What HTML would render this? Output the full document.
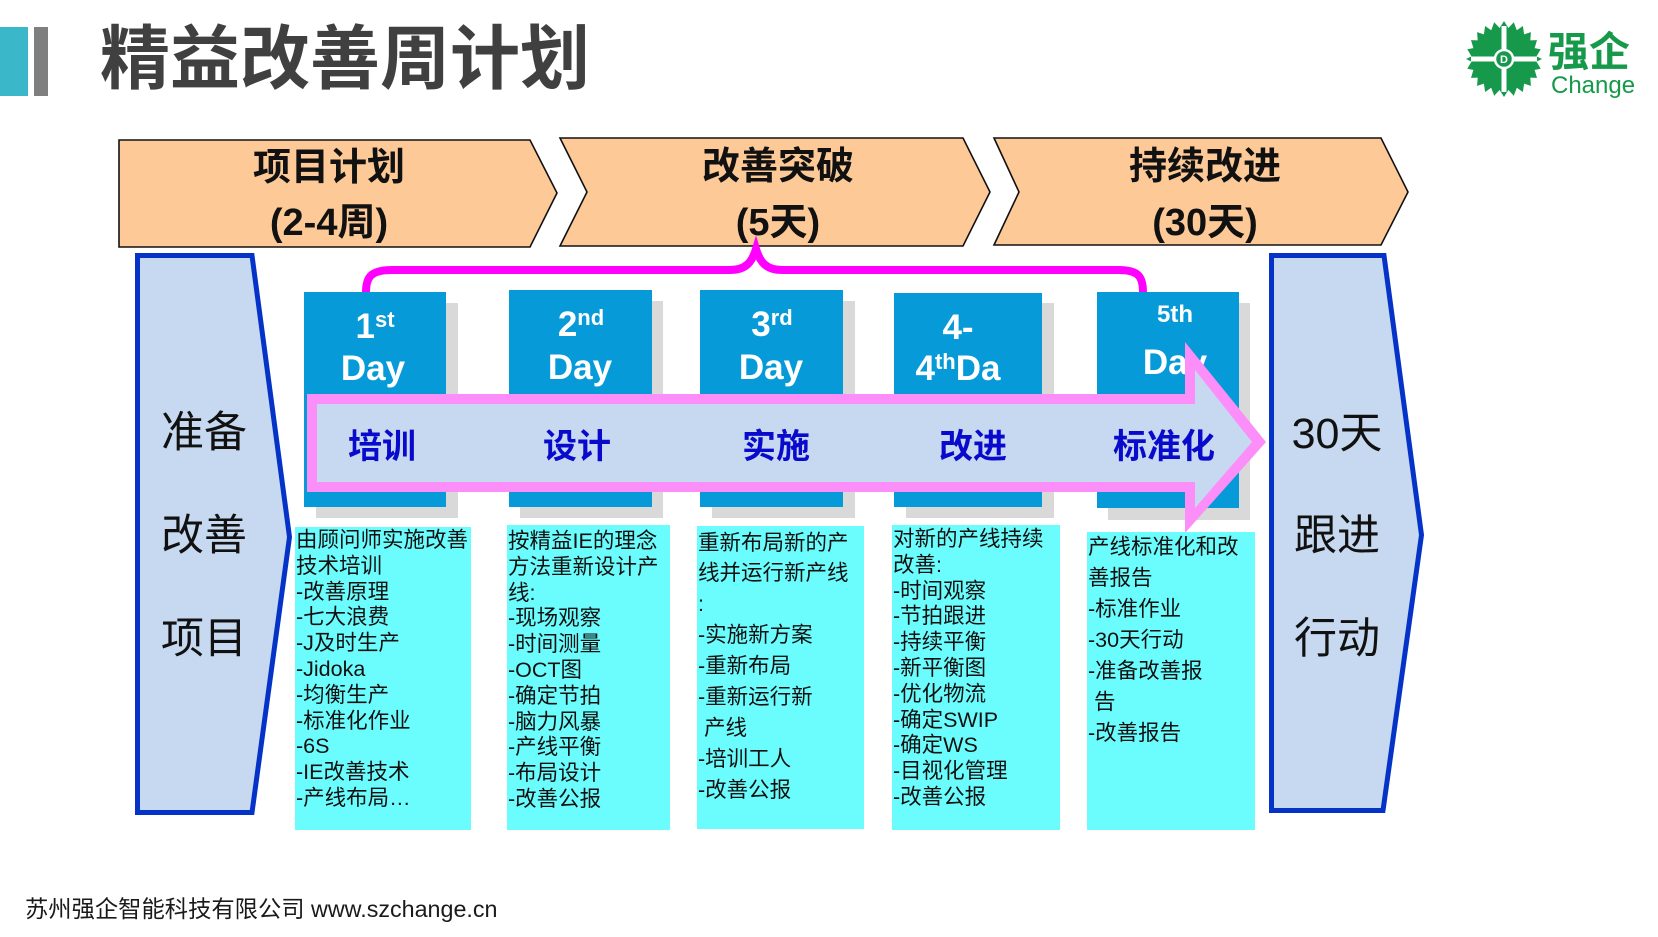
<!DOCTYPE html>
<html>
<head>
<meta charset="utf-8">
<style>
html,body{margin:0;padding:0;background:#fff;}
body{width:1658px;height:937px;position:relative;overflow:hidden;font-family:"Liberation Sans","Noto Sans CJK SC",sans-serif;}
svg{position:absolute;left:0;top:0;}
.title{position:absolute;left:100px;top:19px;font-size:70px;line-height:80px;font-weight:700;color:#404040;white-space:nowrap;font-family:"Liberation Sans","Noto Sans CJK SC",sans-serif;}
.tb{position:absolute;background:#6bfdfd;font-size:21.5px;color:#111;white-space:nowrap;box-sizing:border-box;padding-left:1px;font-family:"Liberation Sans","Noto Sans CJK SC",sans-serif;}
.tb div{white-space:nowrap;}
.footer{position:absolute;left:25px;top:894px;font-size:23.3px;line-height:30px;color:#1a1a1a;white-space:nowrap;font-family:"Liberation Sans","Noto Sans CJK SC",sans-serif;}
.logo1{position:absolute;left:1548px;top:27px;font-size:41px;line-height:50px;font-weight:700;color:#16994a;font-family:"Liberation Sans","Noto Sans CJK SC",sans-serif;white-space:nowrap;}
.logo2{position:absolute;left:1551px;top:72px;font-size:24px;line-height:28px;color:#16994a;font-family:"Liberation Sans",sans-serif;white-space:nowrap;}
</style>
</head>
<body>

<svg width="1658" height="937" viewBox="0 0 1658 937" xmlns="http://www.w3.org/2000/svg">
  <!-- title bars -->
  <rect x="0" y="27" width="28" height="69" fill="#3bb7ca"/>
  <rect x="34" y="27" width="14" height="69" fill="#7f7f7f"/>

  <!-- logo gear -->
  <g transform="translate(1504,59)">
    <polygon fill="#16994a" points="
      0,-38 4.4,-31 9.8,-36.7 12.8,-28.7 18.9,-33 20.1,-24.6 26.9,-26.9 26.3,-18.6 33,-18.9 30.6,-10.9 36.7,-9.8 32.5,-2.6 38,0
      32.5,2.6 36.7,9.8 30.6,10.9 33,18.9 26.3,18.6 26.9,26.9 20.1,24.6 18.9,33 12.8,28.7 9.8,36.7 4.4,31 0,38
      -4.4,31 -9.8,36.7 -12.8,28.7 -18.9,33 -20.1,24.6 -26.9,26.9 -26.3,18.6 -33,18.9 -30.6,10.9 -36.7,9.8 -32.5,2.6 -38,0
      -32.5,-2.6 -36.7,-9.8 -30.6,-10.9 -33,-18.9 -26.3,-18.6 -26.9,-26.9 -20.1,-24.6 -18.9,-33 -12.8,-28.7 -9.8,-36.7 -4.4,-31"/>
    <rect x="-33" y="-2.5" width="66" height="5" fill="#fff"/>
    <rect x="-2.5" y="-33" width="5" height="66" fill="#fff"/>
    <circle cx="0" cy="0" r="9" fill="#16994a" stroke="#fff" stroke-width="2.5"/>
    <text x="0" y="4" text-anchor="middle" font-size="11" font-weight="700" fill="#fff" font-family="Liberation Sans, sans-serif">D</text>
  </g>

  <!-- header chevrons -->
  <polygon points="119,140 530,140 557,193 530,247 119,247" fill="#fcc997" stroke="#111" stroke-width="1.6"/>
  <polygon points="560,138 963,138 990,192 963,246 560,246 587,192" fill="#fcc997" stroke="#111" stroke-width="1.6"/>
  <polygon points="994,138 1381,138 1408,192 1381,245 994,245 1019,192" fill="#fcc997" stroke="#111" stroke-width="1.6"/>

  <g font-family="Liberation Sans, Noto Sans CJK SC, sans-serif" font-weight="700" font-size="38" fill="#111" text-anchor="middle">
    <text x="329" y="180">项目计划</text>
    <text x="329" y="235">(2-4周)</text>
    <text x="778" y="179">改善突破</text>
    <text x="778" y="235">(5天)</text>
    <text x="1205" y="179">持续改进</text>
    <text x="1205" y="235">(30天)</text>
  </g>

  <!-- left and right panels -->
  <polygon points="137.5,255.5 252,255.5 289.5,537 252,812.5 137.5,812.5" fill="#c6d9f0" stroke="#0533c8" stroke-width="5"/>
  <polygon points="1278.5,255.5 1391,255.5 1428.5,535 1390,810.5 1278.5,810.5" fill="#c6d9f0" stroke="#0533c8" stroke-width="5" transform="translate(-7,0)"/>

  <g font-family="Liberation Sans, Noto Sans CJK SC, sans-serif" font-size="43" fill="#111" text-anchor="middle">
    <text x="204" y="447">准备</text>
    <text x="204" y="550">改善</text>
    <text x="204" y="653">项目</text>
    <text x="1337" y="448">30天</text>
    <text x="1337" y="550">跟进</text>
    <text x="1337" y="653">行动</text>
  </g>

  <!-- day box shadows -->
  <g fill="#d9d9d9">
    <rect x="316" y="303" width="142" height="215"/>
    <rect x="520" y="301" width="143" height="217"/>
    <rect x="712" y="301" width="143" height="217"/>
    <rect x="906" y="303" width="148" height="215"/>
    <rect x="1108" y="303" width="142" height="217"/>
  </g>
  <!-- day boxes -->
  <g fill="#069bd8">
    <rect x="304" y="292" width="142" height="215"/>
    <rect x="509" y="290" width="143" height="217"/>
    <rect x="700" y="290" width="143" height="217"/>
    <rect x="894" y="293" width="148" height="214"/>
    <rect x="1097" y="292" width="142" height="216"/>
  </g>

  <!-- day box texts -->
  <g font-family="Liberation Sans, DejaVu Sans, sans-serif" font-weight="700" fill="#fff" text-anchor="middle">
    <text x="375" y="338" font-size="35">1<tspan font-size="22" dy="-11">st</tspan></text>
    <text x="373" y="380" font-size="35">Day</text>
    <text x="581" y="336" font-size="35">2<tspan font-size="22" dy="-11">nd</tspan></text>
    <text x="580" y="379" font-size="35">Day</text>
    <text x="772" y="336" font-size="35">3<tspan font-size="22" dy="-11">rd</tspan></text>
    <text x="771" y="379" font-size="35">Day</text>
    <text x="958" y="339" font-size="35">4-</text>
    <text x="958" y="380" font-size="35">4<tspan font-size="22" dy="-11">th</tspan><tspan dy="11">Da</tspan></text>
    <text x="1175" y="322" font-size="24">5th</text>
    <text x="1175" y="374" font-size="35">Day</text>
  </g>

  <!-- big arrow -->
  <polygon points="307,394 1185,394 1185,342 1266,442 1185,533 1185,492 307,492" fill="#fb8ef8"/>
  <polygon points="317,404 1195,404 1195,370 1252,442 1195,508 1195,482 317,482" fill="#c6d9f0"/>

  <g font-family="Liberation Sans, Noto Sans CJK SC, sans-serif" font-weight="700" font-size="34" fill="#0a0acc" text-anchor="middle">
    <text x="382" y="458">培训</text>
    <text x="577" y="458">设计</text>
    <text x="776" y="458">实施</text>
    <text x="973" y="458">改进</text>
    <text x="1164" y="458">标准化</text>
  </g>

  <!-- magenta brace -->
  <path d="M366,292 C366,276 372,270 392,270 L730,270 C746,270 752,262 756,249 C760,262 766,270 782,270 L1118,270 C1138,270 1143,276 1143,292" fill="none" stroke="#ff00ff" stroke-width="8"/>
</svg>

<div class="title">精益改善周计划</div>
<div class="logo1">强企</div>
<div class="logo2">Change</div>

<div class="tb" style="left:295px;top:527px;width:176px;height:303px;line-height:25.8px;padding-top:1px;">
  <div>由顾问师实施改善</div>
  <div>技术培训</div>
  <div>-改善原理</div>
  <div>-七大浪费</div>
  <div>-J及时生产</div>
  <div>-Jidoka</div>
  <div>-均衡生产</div>
  <div>-标准化作业</div>
  <div>-6S</div>
  <div>-IE改善技术</div>
  <div>-产线布局…</div>
</div>

<div class="tb" style="left:507px;top:525px;width:163px;height:305px;line-height:25.8px;padding-top:4px;">
  <div>按精益IE的理念</div>
  <div>方法重新设计产</div>
  <div>线:</div>
  <div>-现场观察</div>
  <div>-时间测量</div>
  <div>-OCT图</div>
  <div>-确定节拍</div>
  <div>-脑力风暴</div>
  <div>-产线平衡</div>
  <div>-布局设计</div>
  <div>-改善公报</div>
</div>

<div class="tb" style="left:697px;top:526px;width:167px;height:303px;line-height:30.9px;padding-top:1.5px;">
  <div>重新布局新的产</div>
  <div>线并运行新产线</div>
  <div>:</div>
  <div>-实施新方案</div>
  <div>-重新布局</div>
  <div>-重新运行新</div>
  <div>&nbsp;产线</div>
  <div>-培训工人</div>
  <div>-改善公报</div>
</div>

<div class="tb" style="left:892px;top:525px;width:168px;height:305px;line-height:25.8px;padding-top:2px;">
  <div>对新的产线持续</div>
  <div>改善:</div>
  <div>-时间观察</div>
  <div>-节拍跟进</div>
  <div>-持续平衡</div>
  <div>-新平衡图</div>
  <div>-优化物流</div>
  <div>-确定SWIP</div>
  <div>-确定WS</div>
  <div>-目视化管理</div>
  <div>-改善公报</div>
</div>

<div class="tb" style="left:1087px;top:532px;width:168px;height:298px;line-height:31px;padding-top:0;">
  <div>产线标准化和改</div>
  <div>善报告</div>
  <div>-标准作业</div>
  <div>-30天行动</div>
  <div>-准备改善报</div>
  <div>&nbsp;告</div>
  <div>-改善报告</div>
</div>

<div class="footer">苏州强企智能科技有限公司 www.szchange.cn</div>

</body>
</html>
